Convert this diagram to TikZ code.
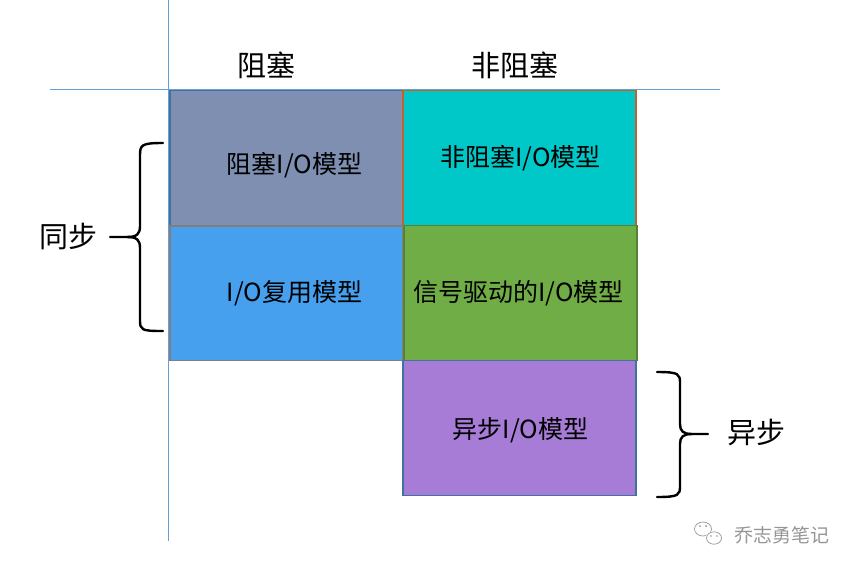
\documentclass[tikz,border=0pt]{standalone}
\usepackage{fontspec}
\setmainfont{Noto Sans CJK SC}
\begin{document}
\begin{tikzpicture}[x=1pt,y=-1pt]
\definecolor{axisblue}{RGB}{100,160,215}
\definecolor{fillA}{RGB}{127,143,178}
\definecolor{lineA}{RGB}{70,112,158}
\definecolor{fillB}{RGB}{0,200,200}
\definecolor{lineB}{RGB}{192,98,42}
\definecolor{fillC}{RGB}{70,160,238}
\definecolor{lineC}{RGB}{127,127,127}
\definecolor{fillD}{RGB}{112,173,71}
\definecolor{lineD}{RGB}{84,130,55}
\definecolor{fillE}{RGB}{167,124,214}
\definecolor{lineE}{RGB}{65,113,156}
\definecolor{wmgray}{RGB}{150,150,150}
\tikzset{
  box/.style={rectangle, minimum width=233pt, minimum height=135pt, inner sep=0pt, line width=1.8pt},
  boxtext/.style={inner sep=0pt, font=\fontsize{25}{29}\selectfont, text=black},
  headtext/.style={inner sep=0pt, font=\fontsize{29}{33}\selectfont, text=black},
  bracestroke/.style={line width=2.4pt, black, line cap=round, line join=round},
  axis/.style={axisblue, line width=0.8pt}
}
\useasboundingbox (0,0) rectangle (861,571);
% axes
\coordinate (vt) at (168.5,0);
\coordinate (vb) at (168.5,541);
\coordinate (hl) at (50,89.5);
\coordinate (hr) at (720,89.5);
\draw[axis] (vt) -- (vb);
\draw[axis] (hl) -- (hr);
% headers
\node[headtext] (h1) at (266,65) {阻塞};
\node[headtext] (h2) at (515,65) {非阻塞};
% boxes
\node[box, fill=fillA, draw=lineA] (b1) at (286.5,158) {};
\node[box, fill=fillB, draw=lineB] (b2) at (519.5,158) {};
\node[box, fill=fillC, draw=lineC] (b3) at (286.5,293) {};
\node[box, fill=fillD, draw=lineD] (b4) at (520.5,293) {};
\node[box, fill=fillE, draw=lineE] (b5) at (519.5,428) {};
\draw[lineC, line width=1.8pt] (b1.south west) -- (b1.south east);
% box texts
\node[boxtext] (t1) at ([xshift=8pt,yshift=-7pt]b1.center) {阻塞I/O模型};
\node[boxtext] (t2) at ([xshift=1pt]b2.center) {非阻塞I/O模型};
\node[boxtext] (t3) at ([xshift=8pt]b3.center) {I/O复用模型};
\node[boxtext] (t4) at ([xshift=-2pt]b4.center) {信号驱动的I/O模型};
\node[boxtext] (t5) at ([xshift=1pt,yshift=-2pt]b5.center) {异步I/O模型};
% left brace
\draw[bracestroke] (163,143) .. controls (141,143) and (140,145) .. (140,156) -- (140,226)
  .. controls (140,234) and (137,237) .. (127,237) -- (110,237);
\draw[bracestroke] (127,237) .. controls (137,237) and (140,240) .. (140,248) -- (140,320)
  .. controls (140,330) and (141,331) .. (163,331);
\node[headtext] (s1) at (68,237) {同步};
% right brace
\draw[bracestroke] (657,372) .. controls (679,372) and (680,374) .. (680,383) -- (680,424)
  .. controls (680,431) and (683,434) .. (692,434) -- (708,434);
\draw[bracestroke] (692,434) .. controls (683,434) and (680,437) .. (680,444) -- (680,486)
  .. controls (680,495) and (679,497) .. (657,497);
\node[headtext] (s2) at (756,433) {异步};
% watermark
\draw[wmgray, line width=0.7pt] (703,529) ellipse [x radius=8.5pt, y radius=7pt];
\fill[white] (714,538) ellipse [x radius=8.5pt, y radius=7pt];
\draw[wmgray, line width=0.7pt] (714,538) ellipse [x radius=7.5pt, y radius=6.2pt];
\fill[wmgray] (700,526) circle (1pt) (706,526) circle (1pt) (711,536) circle (0.8pt) (717,536) circle (0.8pt);
\node[inner sep=0pt, font=\fontsize{19}{22}\selectfont, text=wmgray] (wm) at (782,535) {乔志勇笔记};
\end{tikzpicture}
\end{document}
